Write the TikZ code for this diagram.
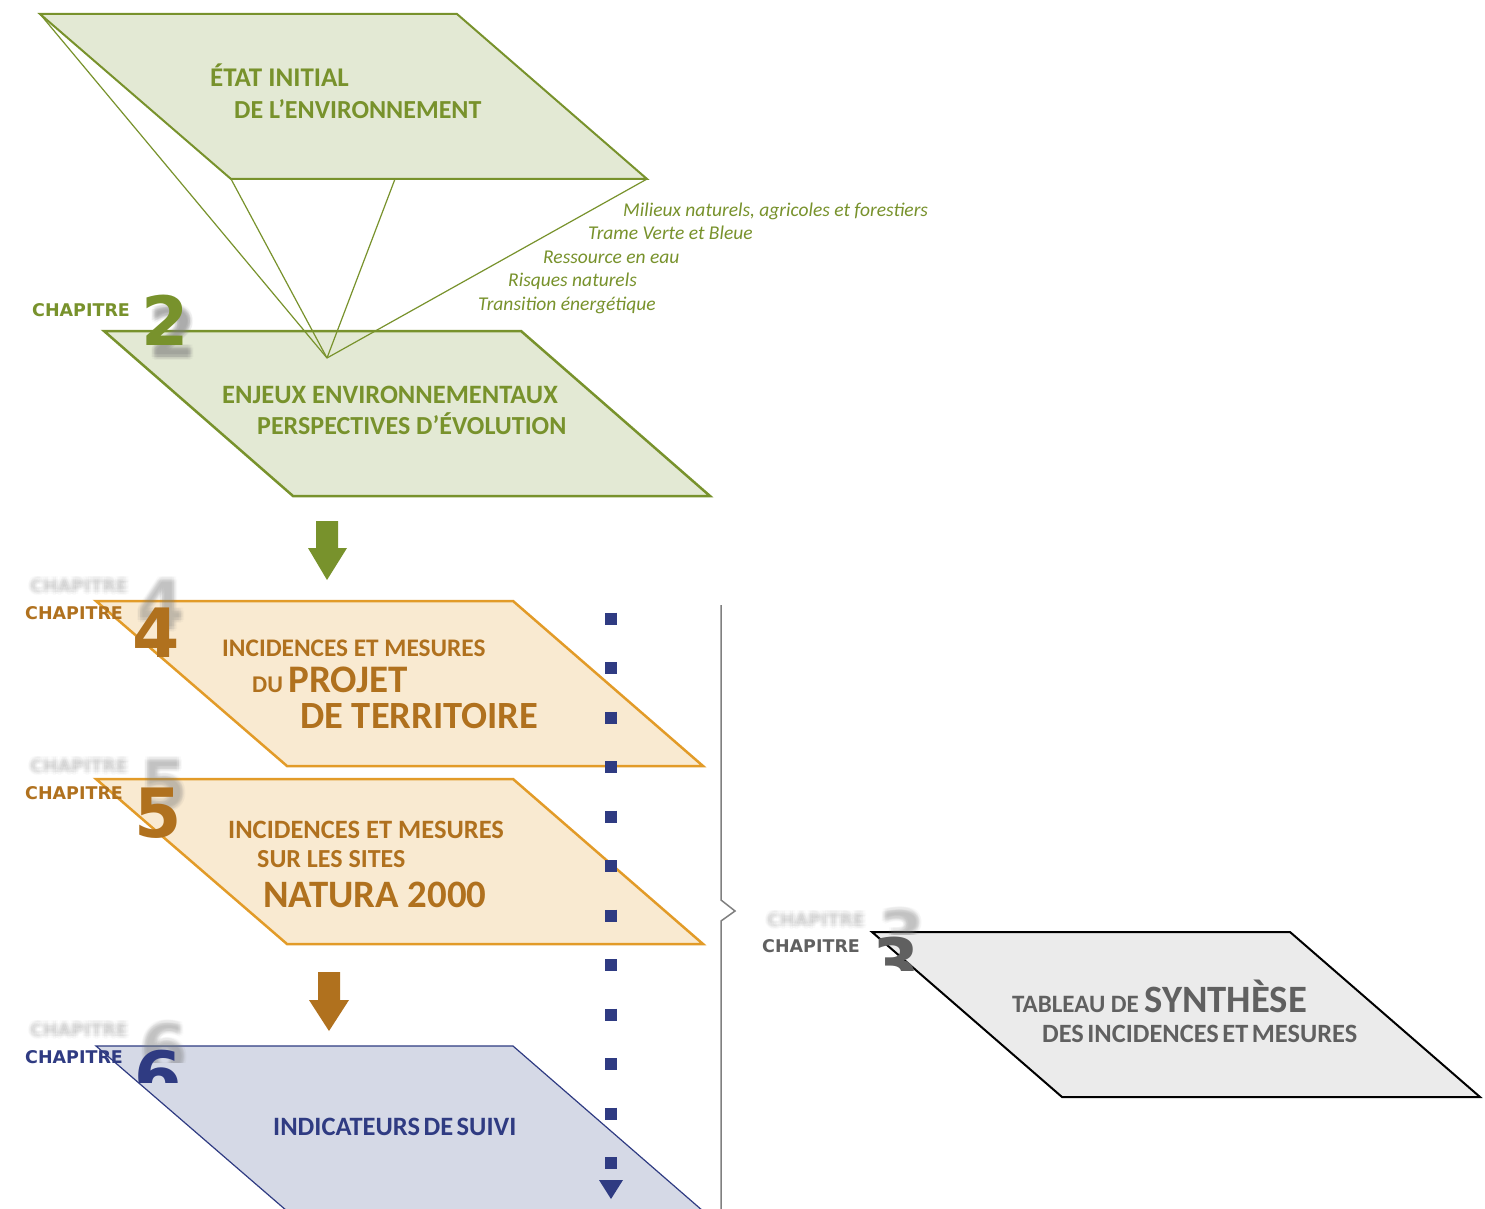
\documentclass[tikz,border=0pt]{standalone}
\usepackage{fontspec}
\setmainfont{Carlito}
\newfontfamily\dvs{DejaVu Sans}
\usetikzlibrary{arrows.meta}
\definecolor{olive}{RGB}{120,146,44}
\definecolor{greenfill}{RGB}{227,233,212}
\definecolor{orangeline}{RGB}{226,155,40}
\definecolor{orangefill}{RGB}{249,234,209}
\definecolor{brownc}{RGB}{176,113,30}
\definecolor{navyc}{RGB}{47,59,130}
\definecolor{bluefill}{RGB}{213,217,230}
\definecolor{greyfill}{RGB}{235,235,235}
\definecolor{greytext}{RGB}{96,96,96}
\definecolor{bracec}{RGB}{128,128,128}
\newcommand\fs[1]{\fontsize{#1}{#1}\selectfont}
\newcommand\ghosttext[6]{% x, y, name, font, opacity, text
  \foreach \dx/\dy [count=\k] in {0/0,1.5/0,-1.5/0,0/1.5,0/-1.5,3/0,-3/0,0/3,0/-3,2.2/2.2,-2.2/-2.2,2.2/-2.2,-2.2/2.2}
    \node[ghost, font=#4, text opacity=#5, xshift=\dx pt, yshift=\dy pt] (#3\k) at (#1,#2) {#6};}
\begin{document}
\begin{tikzpicture}[x=1pt,y=-1pt,
  lbl/.style={inner sep=0pt, anchor=base west, font=\bfseries},
  chap/.style={inner sep=0pt, anchor=base west, font=\dvs\bfseries\fs{17.5}},
  bignum/.style={inner sep=0pt, anchor=base west, font=\dvs\bfseries\fs{68}},
  ghost/.style={inner sep=0pt, anchor=base west, text=gray},
  itl/.style={inner sep=0pt, anchor=base west, font=\itshape\fs{19.5}, text=olive},
  pgreen/.style={draw=olive, fill=greenfill, line join=miter},
  porange/.style={draw=orangeline, fill=orangefill, line width=2.5pt, line join=miter},
  pblue/.style={draw=navyc, fill=bluefill, line width=1.2pt, line join=miter},
  pgrey/.style={draw=black, fill=greyfill, line width=2pt, line join=miter},
  persp/.style={draw=olive, line width=1.2pt}
  ]
\clip (0,0) rectangle (1485,1209);
\fill[white] (0,0) rectangle (1485,1209);

% ---------- corners
\coordinate (a1) at (40,14);   \coordinate (a2) at (457,14);
\coordinate (a3) at (647,179); \coordinate (a4) at (231,179);
\coordinate (am) at (395,179);
\coordinate (apex) at (327,358);
\coordinate (b1) at (104,331); \coordinate (b2) at (521,331);
\coordinate (b3) at (710,496); \coordinate (b4) at (293,496);
\coordinate (c1) at (96,601);  \coordinate (c2) at (513,601);
\coordinate (c3) at (703,766); \coordinate (c4) at (287,766);
\coordinate (d1) at (96,779);  \coordinate (d2) at (513,779);
\coordinate (d3) at (703,944); \coordinate (d4) at (287,944);
\coordinate (e1) at (96,1046); \coordinate (e2) at (513,1046);
\coordinate (e3) at (703,1211);\coordinate (e4) at (287,1211);
\coordinate (f1) at (872,932); \coordinate (f2) at (1290,932);
\coordinate (f3) at (1480,1097);\coordinate (f4) at (1062,1097);

% ---------- chapter 2 block
\path[pgreen, line width=2pt] (a1) -- (a2) -- (a3) -- (a4) -- cycle;
\path[pgreen, line width=2.5pt] (b1) -- (b2) -- (b3) -- (b4) -- cycle;
\draw[persp] (a1) -- (apex);
\draw[persp] (a4) -- (apex);
\draw[persp] (am) -- (apex);
\draw[persp] (a3) -- (apex);

\node[lbl, font=\bfseries\fs{27}, text=olive] (t1a) at (210,86.5) {ÉTAT INITIAL};
\node[lbl, font=\bfseries\fs{26}, text=olive] (t1b) at (234,118.5) {DE L’ENVIRONNEMENT};
\node[lbl, font=\bfseries\fs{26.5}, text=olive] (t2a) at (222,403.5) {ENJEUX ENVIRONNEMENTAUX};
\node[lbl, font=\bfseries\fs{26}, text=olive] (t2b) at (257,434.5) {PERSPECTIVES D’ÉVOLUTION};

\node[itl] (i1) at (623,216.7) {Milieux naturels, agricoles et forestiers};
\node[itl] (i2) at (588,240) {Trame Verte et Bleue};
\node[itl] (i3) at (543,263) {Ressource en eau};
\node[itl] (i4) at (508,286.7) {Risques naturels};
\node[itl] (i5) at (478,310.7) {Transition énergétique};

\node[chap, text=olive] (ch2) at (32,316.5) {CHAPITRE};
\ghosttext{149}{357}{g2s}{\dvs\bfseries\fs{68}}{0.07}{2}
\node[bignum, text=olive] (n2) at (141,345) {2};

% green block arrow
\fill[olive] (316,521) -- (338,521) -- (338,548) -- (347,548) -- (327,580) -- (308,548) -- (316,548) -- cycle;

% ---------- chapter 4
\path[porange] (c1) -- (c2) -- (c3) -- (c4) -- cycle;
\ghosttext{30}{592}{g4c}{\dvs\bfseries\fs{17.5}}{0.035}{CHAPITRE}
\ghosttext{137}{629}{g4n}{\dvs\bfseries\fs{68}}{0.045}{4}
\node[chap, text=brownc] (ch4) at (25,619) {CHAPITRE};
\node[bignum, text=brownc] (n4) at (132,657) {4};
\node[lbl, font=\bfseries\fs{25.3}, text=brownc] (t4a) at (222,656.5) {INCIDENCES ET MESURES};
\node[lbl, text=brownc] (t4b) at (252,692) {{\fs{24}DU }{\fs{39}PROJET}};
\node[lbl, font=\bfseries\fs{38.5}, text=brownc] (t4c) at (300,728) {DE TERRITOIRE};

% ---------- chapter 5
\path[porange] (d1) -- (d2) -- (d3) -- (d4) -- cycle;
\ghosttext{30}{772}{g5c}{\dvs\bfseries\fs{17.5}}{0.035}{CHAPITRE}
\ghosttext{140}{809}{g5n}{\dvs\bfseries\fs{68}}{0.045}{5}
\node[chap, text=brownc] (ch5) at (25,799) {CHAPITRE};
\node[bignum, text=brownc] (n5) at (134,837) {5};
\node[lbl, font=\bfseries\fs{26.5}, text=brownc] (t5a) at (228,838.5) {INCIDENCES ET MESURES};
\node[lbl, font=\bfseries\fs{26}, text=brownc] (t5b) at (257,867.5) {SUR LES SITES};
\node[lbl, font=\bfseries\fs{38.8}, text=brownc] (t5c) at (263,907) {NATURA 2000};

% brown block arrow
\fill[brownc] (318,972) -- (340,972) -- (340,1000) -- (349,1000) -- (329,1031) -- (309,1000) -- (318,1000) -- cycle;

% ---------- chapter 6
\path[pblue] (e1) -- (e2) -- (e3) -- (e4) -- cycle;
\begin{scope}
  \clip (0,0) rectangle (1485,1060);
  \ghosttext{30}{1036}{g6c}{\dvs\bfseries\fs{17.5}}{0.035}{CHAPITRE}
\end{scope}
\begin{scope}
  \clip (100,1000) rectangle (200,1062);
  \ghosttext{140}{1073}{g6n}{\dvs\bfseries\fs{68}}{0.045}{6}
\end{scope}
\node[chap, text=navyc] (ch6) at (25,1063) {CHAPITRE};
\begin{scope}
  \clip (100,1040) rectangle (200,1082);
  \node[bignum, text=navyc] (n6) at (134,1100) {6};
\end{scope}
\node[lbl, font=\bfseries\fs{26.5}, text=navyc] (t6) at (273,1135.5) {INDICATEURS\hspace{3.5pt}DE\hspace{3.5pt}SUIVI};

% ---------- chapter 3
\path[pgrey] (f1) -- (f2) -- (f3) -- (f4) -- cycle;
\begin{scope}
  \clip (700,880) rectangle (950,934);
  \ghosttext{767}{926}{g3c}{\dvs\bfseries\fs{17.5}}{0.035}{CHAPITRE}
  \ghosttext{878}{960}{g3n}{\dvs\bfseries\fs{68}}{0.045}{3}
\end{scope}
\node[chap, text=greytext] (ch3) at (762,952.7) {CHAPITRE};
\begin{scope}
  \clip (860,934) rectangle (960,970);
  \node[bignum, text=greytext] (n3) at (872,987) {3};
\end{scope}
\node[lbl, text=greytext] (t3a) at (1012,1012) {{\fs{25}TABLEAU DE }{\fs{38.7}SYNTHÈSE}};
\node[lbl, font=\bfseries\fs{26.4}, text=greytext] (t3b) at (1042,1042.5) {DES\hspace{3.5pt}INCIDENCES\hspace{3.5pt}ET\hspace{3.5pt}MESURES};

% ---------- dotted navy arrow
\coordinate (dtop) at (611,612.5);
\coordinate (dbot) at (611,1169);
\draw[navyc, line width=12pt, dash pattern=on 12pt off 37.5pt] (dtop) -- (dbot);
\fill[navyc] (599,1180) -- (623,1180) -- (611,1199) -- cycle;

% ---------- brace
\coordinate (br1) at (721,605);
\coordinate (brt) at (735,911);
\coordinate (br2) at (721,1209);
\draw[bracec, line width=1.5pt, line join=miter] (br1) -- (721,900) -- (brt) -- (721,921) -- (br2);
\end{tikzpicture}
\end{document}
